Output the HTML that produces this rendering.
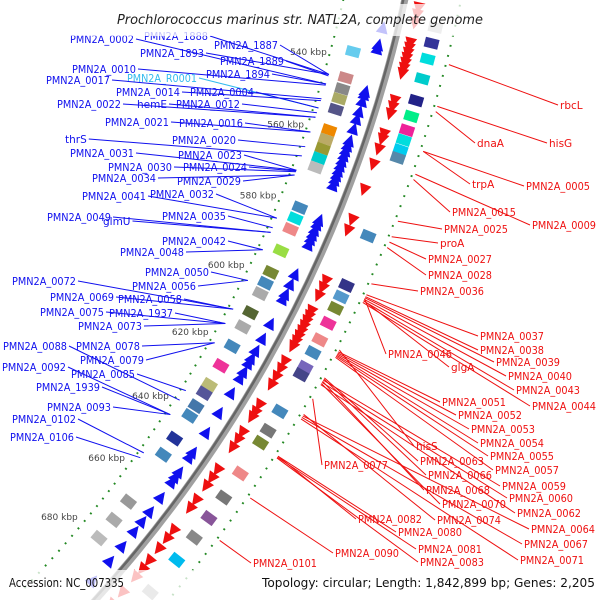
<!DOCTYPE html>
<html><head><meta charset="utf-8"><style>
html,body{margin:0;padding:0;background:#fff;width:600px;height:600px;overflow:hidden}
svg{display:block}
text{font-family:"DejaVu Sans","Liberation Sans",sans-serif}
</style></head><body>
<svg id="c" width="600" height="600" viewBox="0 0 600 600" xmlns="http://www.w3.org/2000/svg">
<g id="dots"></g>
<g id="boxes"></g>
<g id="arrows"></g>
<g id="backbone"></g>
<g id="ticks"></g>
<g id="labels"></g>
<rect x="0" y="4" width="600" height="32" fill="#fff" opacity="0.75"/>
<text x="300" y="24" text-anchor="middle" font-size="13" font-style="italic" fill="#222" textLength="366" lengthAdjust="spacingAndGlyphs">Prochlorococcus marinus str. NATL2A, complete genome</text>
<rect x="0" y="570" width="600" height="30" fill="#fff" opacity="0.75"/>
<text x="9" y="587" font-size="12.5" fill="#111" textLength="115" lengthAdjust="spacingAndGlyphs">Accession: NC_007335</text>
<text x="262" y="587" font-size="12.5" fill="#111" textLength="333" lengthAdjust="spacingAndGlyphs">Topology: circular; Length: 1,842,899 bp; Genes: 2,205</text>
</svg>
<script>
// ---- data ----
const blueArrowKbp=[528,532.5,533.5,544.7,545.5,547.3,550,552,554.6,557.7,559,560.3,561.6,563,564.3,565.6,566.8,568,569.4,578.8,580,581.5,582.8,584,585.5,593.6,596.3,599,600.4,607.4,611.6,615,617.2,618.6,621,622.8,627,633,639,645,646.5,651,652.5,654,658.8,663.4,666.6,669.8,674.6,679.4,685.8];
const redArrowKbp=[521.3,523.1,525.2,530.4,531.7,533,534.3,535.6,536.9,538.2,545.2,546.8,548.6,553.8,555.1,557.7,561.6,568.1,576,578.8,592.3,594.1,596.3,600.4,601.8,603.2,604.6,606,607.4,608.8,610.2,614.4,616.4,618.6,620.8,626.4,628.5,630,634.5,636.6,639,645.6,648,650.4,654.6,657,664,666.6,669.8,673.6,676.2,678.8,683.6,687.4];
const innerBoxKbp=[536,543,546,548.6,551.5,557,559.5,562,564.5,567,578,581,584,590,596,599,602,607.5,611.6,617.2,622.8,628.4,631,635,638,645,650,665,671,677];
const innerBoxColor=["#66ccee","#cc8888","#888888","#aaaa66","#555588","#ee8800","#bbaa66","#999933","#00cccc","#bbbbbb","#4488bb","#00dddd","#ee8888","#99dd44","#778833","#4488bb","#aaaaaa","#556633","#aaaaaa","#4488bb","#ee3399","#bbbb77","#555599","#4477aa","#4488bb","#223399","#4488bb","#999999","#aaaaaa","#bbbbbb"];
const outerBoxKbp=[525,529,533,538,543.5,547.5,551,553.5,556,558,578,591,594,597,601,605.5,609,613,615,625,630.5,634,643,650,656,662,669,679];
const outerBoxColor=["#bbbbbb","#333399","#00dddd","#00cccc","#222288","#00ee88","#ee2299","#00dddd","#00ccee","#5588aa","#4488bb","#333388","#5599cc","#778833","#ee3399","#ee8888","#4488bb","#7766bb","#444488","#4488bb","#777777","#778833","#ee8888","#777777","#885599","#888888","#00bbee","#aaaaaa"];
const tickKbp=[540,560,580,600,620,640,660,680];
const tickText=["540 kbp","560 kbp","580 kbp","600 kbp","620 kbp","640 kbp","660 kbp","680 kbp"];
const blueNames=["PMN2A_1888","PMN2A_0002","PMN2A_1893","PMN2A_1887","PMN2A_1889","PMN2A_0010","PMN2A_1894","PMN2A_R0001","PMN2A_0017","PMN2A_0014","PMN2A_0004","PMN2A_0022","hemE","PMN2A_0012","PMN2A_0021","PMN2A_0016","thrS","PMN2A_0020","PMN2A_0031","PMN2A_0023","PMN2A_0030","PMN2A_0024","PMN2A_0034","PMN2A_0029","PMN2A_0041","PMN2A_0032","PMN2A_0049","glmU","PMN2A_0035","PMN2A_0042","PMN2A_0048","PMN2A_0050","PMN2A_0056","PMN2A_0072","PMN2A_0069","PMN2A_0058","PMN2A_0075","PMN2A_1937","PMN2A_0073","PMN2A_0088","PMN2A_0078","PMN2A_0079","PMN2A_0092","PMN2A_0085","PMN2A_1939","PMN2A_0093","PMN2A_0102","PMN2A_0106"];
const blueLX=[144,70,140,214,220,72,206,127,46,116,190,57,137,176,105,179,65,172,70,178,108,183,92,177,82,150,47,103,162,162,120,145,132,12,50,118,40,109,78,3,76,80,2,71,36,47,12,10];
const blueLY=[40,43,57,49,65,73,78,82,84,96,96,108,108,108,126,127,143,144,157,159,171,171,182,185,200,198,221,225,220,245,256,276,290,285,301,303,316,317,330,350,350,364,371,378,391,411,423,441];
const blueKbp=[543.4,546,543.4,543.4,543.8,546.3,546,552.5,550,550.5,552.5,555,555,553.8,559,559,565.5,563,569.4,569.4,569.8,569.6,570.7,570.7,582.8,582.8,586.8,586.8,585.5,591.7,591.7,600.4,600.4,608.8,608.8,608.8,613,613,613,636,618.6,618.6,640.5,633,640.5,640.5,652.5,654];
const redNames=["rbcL","hisG","dnaA","trpA","PMN2A_0005","PMN2A_0015","PMN2A_0009","PMN2A_0025","proA","PMN2A_0027","PMN2A_0028","PMN2A_0036","PMN2A_0037","PMN2A_0038","PMN2A_0046","PMN2A_0039","glgA","PMN2A_0040","PMN2A_0043","PMN2A_0044","PMN2A_0051","PMN2A_0052","PMN2A_0053","PMN2A_0054","hisS","PMN2A_0055","PMN2A_0063","PMN2A_0057","PMN2A_0077","PMN2A_0066","PMN2A_0059","PMN2A_0068","PMN2A_0060","PMN2A_0070","PMN2A_0062","PMN2A_0082","PMN2A_0074","PMN2A_0064","PMN2A_0080","PMN2A_0067","PMN2A_0081","PMN2A_0090","PMN2A_0071","PMN2A_0101","PMN2A_0083"];
const redLX=[560,549,477,472,526,452,532,444,440,428,428,420,480,480,388,496,451,508,516,532,442,458,471,480,416,490,420,495,324,428,502,426,509,442,517,358,437,531,398,524,418,335,520,253,420];
const redLY=[109,147,147,188,190,216,229,233,247,263,279,295,340,354,358,366,371,380,394,410,406,419,433,447,450,460,465,474,469,479,490,494,502,508,517,523,524,533,536,548,553,557,564,567,566];
const redKbp=[533,543.4,544.7,554.6,554.6,561.6,560.3,572,576,577.4,578.8,588.2,591,591.5,592,591.8,592.5,592.2,592.6,593,606,606.3,606.6,606.9,605.5,607.2,613,607.5,618.6,613.3,613.6,613.9,614.2,614.5,614.8,634.5,622.8,623.2,634.5,623.6,634.8,646.5,624,658.8,635];

// ---- geometry ----
const CX=-875, CY=-280, R=1310;
const ancK=[505,520,546,572,599,627,657,689,725], ancY=[-58,0,100,200,300,400,500,600,710];
function yOf(k){for(let i=0;i<ancK.length-1;i++){if(k<=ancK[i+1]||i==ancK.length-2){const t=(k-ancK[i])/(ancK[i+1]-ancK[i]);return ancY[i]+t*(ancY[i+1]-ancY[i]);}}}
function theta(k){return Math.asin((yOf(k)-CY)/R);}
function pt(k,r){const a=theta(k);return [CX+r*Math.cos(a),CY+r*Math.sin(a)];}
const NS="http://www.w3.org/2000/svg";
function mk(tag,parent){const e=document.createElementNS(NS,tag);document.getElementById(parent).appendChild(e);return e;}

// backbone
(function(){
  const a0=theta(505),a1=theta(725);
  const p0=[CX+R*Math.cos(a0),CY+R*Math.sin(a0)],p1=[CX+R*Math.cos(a1),CY+R*Math.sin(a1)];
  const b=mk("path","backbone");
  
  
  b.setAttribute("d","M"+p0[0]+" "+p0[1]+" A"+R+" "+R+" 0 0 1 "+p1[0]+" "+p1[1]);
  b.setAttribute("stroke","#a0a0a0");b.setAttribute("stroke-width","7");b.setAttribute("fill","none");
  const q0=[CX+(R-1.5)*Math.cos(a0),CY+(R-1.5)*Math.sin(a0)],q1=[CX+(R-1.5)*Math.cos(a1),CY+(R-1.5)*Math.sin(a1)];
  const b2=mk("path","backbone");
  
  
  b2.setAttribute("d","M"+q0[0]+" "+q0[1]+" A"+(R-1.5)+" "+(R-1.5)+" 0 0 1 "+q1[0]+" "+q1[1]);
  b2.setAttribute("stroke","#666");b2.setAttribute("stroke-width","2.5");b2.setAttribute("fill","none");
})();

// dots
for(let k=506;k<=700;k+=2.5){
  [R-60,R+55].forEach(function(r){
    const a=theta(k),p=pt(k,r),big=(Math.round(k*2)%20==0);
    const L=big?6:1.8;
    const e=mk("line","dots");
    
    
    const tx=-Math.sin(a),ty=Math.cos(a);
    e.setAttribute("x1",p[0]-tx*L/2);e.setAttribute("y1",p[1]-ty*L/2);
    e.setAttribute("x2",p[0]+tx*L/2);e.setAttribute("y2",p[1]+ty*L/2);
    e.setAttribute("stroke","#228822");e.setAttribute("stroke-width","2");
  });
}

// arrows
function arrow(k,r,dir,col,name){
  const a=theta(k),c=pt(k,r),tx=-Math.sin(a)*dir,ty=Math.cos(a)*dir,nx=Math.cos(a),ny=Math.sin(a);
  const L=6,W=6;
  const tip=[c[0]+tx*L,c[1]+ty*L],b1=[c[0]-tx*L+nx*W,c[1]-ty*L+ny*W],b2=[c[0]-tx*L-nx*W,c[1]-ty*L-ny*W];
  const e=mk("polygon","arrows");
  
  
  e.setAttribute("points",tip.join(",")+" "+b1.join(",")+" "+b2.join(","));
  e.setAttribute("fill",col);
}
blueArrowKbp.forEach(k=>arrow(k,R-15,-1,"#1010ee","blue-gene-arrow"));
redArrowKbp.forEach(k=>arrow(k,R+15,1,"#ee1010","red-gene-arrow"));

// boxes
function box(k,r,col,name){
  const a=theta(k),c=pt(k,r);
  const e=mk("rect","boxes");
  
  
  e.setAttribute("x",-7);e.setAttribute("y",-5);e.setAttribute("width",14);e.setAttribute("height",10);
  e.setAttribute("fill",col);
  e.setAttribute("transform","translate("+c[0]+","+c[1]+") rotate("+(a*180/Math.PI)+")");
}
innerBoxKbp.forEach((k,i)=>box(k,R-38,innerBoxColor[i],"inner-feature-box"));
outerBoxKbp.forEach((k,i)=>box(k,R+36,outerBoxColor[i],"outer-feature-box"));

// tick labels
tickKbp.forEach(function(k,i){
  const p=pt(k,R-80);
  const t=mk("text","ticks");
  
  
  t.setAttribute("x",p[0]);t.setAttribute("y",p[1]);t.setAttribute("text-anchor","middle");
  t.setAttribute("font-size","9");t.setAttribute("fill","#444");
  t.textContent=tickText[i];
});

// labels
function isGene(n){return n.indexOf("PMN2A")==0;}
blueNames.forEach(function(n,i){
  const t=mk("text","labels");
  
  
  t.setAttribute("x",blueLX[i]);t.setAttribute("y",blueLY[i]);t.setAttribute("font-size","10.5");
  t.setAttribute("fill",n=="PMN2A_R0001"?"#33bbee":"#1010ee");
  t.textContent=n;
  if(isGene(n)){t.setAttribute("textLength",n.length==11?70:64);t.setAttribute("lengthAdjust","spacingAndGlyphs");}
  const w=isGene(n)?(n.length==11?70:64):t.getComputedTextLength();
  const p=pt(blueKbp[i],R-55);
  const l=mk("line","labels");
  
  
  l.setAttribute("x1",blueLX[i]+w+2);l.setAttribute("y1",blueLY[i]-4);l.setAttribute("x2",p[0]);l.setAttribute("y2",p[1]);
  l.setAttribute("stroke",n=="PMN2A_R0001"?"#33bbee":"#1010ee");l.setAttribute("stroke-width","1");
});
redNames.forEach(function(n,i){
  const t=mk("text","labels");
  
  
  t.setAttribute("x",redLX[i]);t.setAttribute("y",redLY[i]);t.setAttribute("font-size","10.5");
  t.setAttribute("fill","#ee1010");
  t.textContent=n;
  if(isGene(n)){t.setAttribute("textLength",64);t.setAttribute("lengthAdjust","spacingAndGlyphs");}
  const p=pt(redKbp[i],R+58);
  const l=mk("line","labels");
  
  
  l.setAttribute("x1",redLX[i]-2);l.setAttribute("y1",redLY[i]-4);l.setAttribute("x2",p[0]);l.setAttribute("y2",p[1]);
  l.setAttribute("stroke","#ee1010");l.setAttribute("stroke-width","1");
});
</script>
</body></html>
